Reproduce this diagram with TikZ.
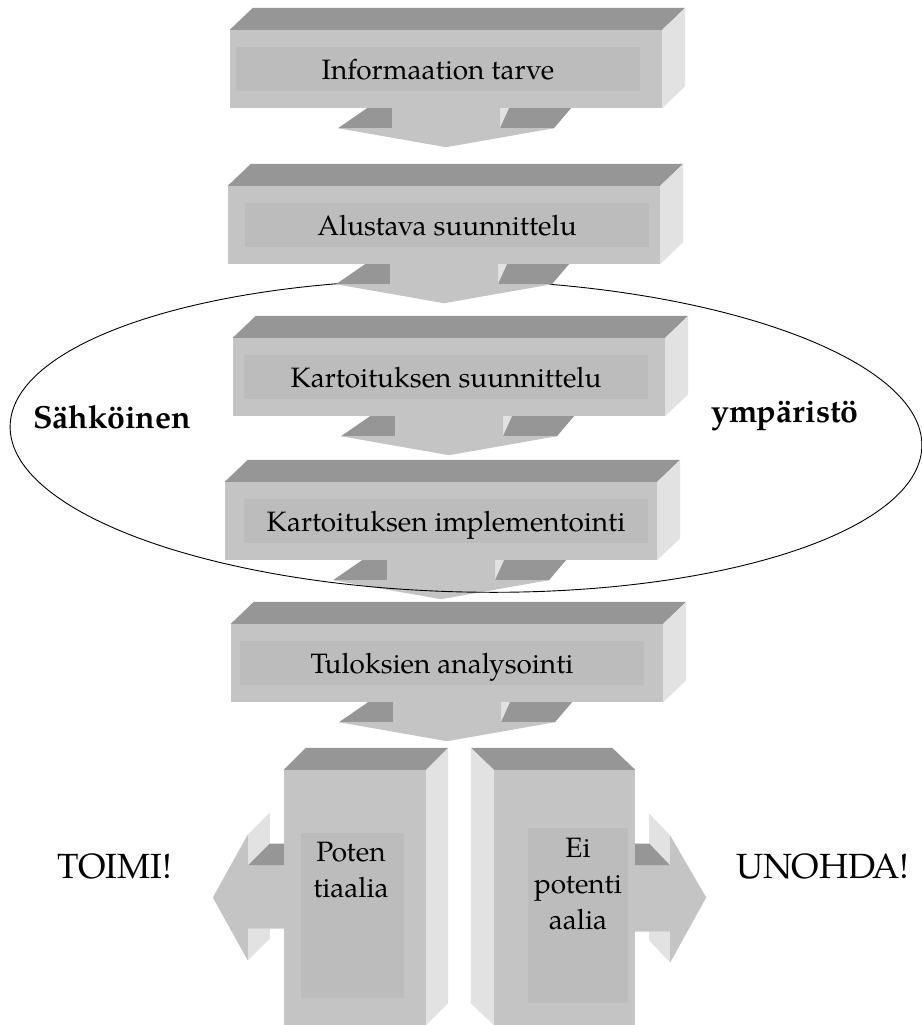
\documentclass[tikz,border=0pt]{standalone}
\usepackage{fontspec}
\setmainfont{texgyrepagella}[Extension=.otf, UprightFont=*-regular, BoldFont=*-bold, ItalicFont=*-italic, BoldItalicFont=*-bolditalic]
\usepackage{tikz}
\usetikzlibrary{shapes.geometric}
\usepackage{xcolor}
\definecolor{facegray}{RGB}{196,196,196}
\definecolor{topgray}{RGB}{150,150,150}
\definecolor{sidegray}{RGB}{226,226,226}
\definecolor{innergray}{RGB}{188,188,188}

\begin{document}
\begin{tikzpicture}[
    x=1pt, y=-1pt,
    face/.style={rectangle, fill=facegray, inner sep=0pt, minimum width=432pt, minimum height=78pt},
    inner/.style={rectangle, fill=innergray, inner sep=0pt, minimum width=404pt, minimum height=44pt,
        text height=25pt, text depth=5pt, font=\fontsize{28}{36}\selectfont},
    tall/.style={rectangle, fill=facegray, inner sep=0pt, minimum width=142pt, minimum height=255pt},
    talltext/.style={align=center, inner sep=0pt, font=\fontsize{28}{36}\selectfont},
    sidetext/.style={anchor=base, font=\fontsize{35}{40}\selectfont},
    envlabel/.style={anchor=base, font=\bfseries\fontsize{32}{36}\selectfont},
    flowarrow/.pic={
        \fill[topgray] (-108,20) -- (-54,20) -- (-54,0) -- (-79,0) -- cycle;
        \fill[sidegray] (54,0) -- (63,0) -- (54,20) -- cycle;
        \fill[topgray] (54,20) -- (108,20) -- (125,0) -- (63,0) -- cycle;
        \fill[facegray] (-54,0) -- (54,0) -- (54,20) -- (108,20) -- (0,39) -- (-108,20) -- (-54,20) -- cycle;
    }
]
\useasboundingbox[fill=white] (0,0) rectangle (921,1025);

% Steps
\foreach \nm/\cx/\cy/\ix/\txt in {need/446/69/438/Informaation tarve,
    draft/444/225/447/Alustava suunnittelu,
    design/449/377/446/Kartoituksen suunnittelu,
    impl/441/521/446/Kartoituksen implementointi,
    anal/447/663/442/Tuloksien analysointi}{
  \node[face] (\nm) at (\cx,\cy) {};
  \fill[topgray] (\nm.north west) -- ++(23,-22) -- ([shift={(23,-22)}]\nm.north east) -- (\nm.north east) -- cycle;
  \fill[sidegray] (\nm.north east) -- ++(23,-22) -- ([shift={(23,-22)}]\nm.south east) -- (\nm.south east) -- cycle;
  \node[inner] (\nm-in) at (\ix,\cy) {\txt};
}

% Arrows between the steps
\foreach \nm in {need, design, impl, anal}
  \pic at (\nm.south) {flowarrow};

% Electronic environment
\node[draw, ellipse, line width=0.9pt, inner sep=0pt, minimum width=912pt, minimum height=312pt, rotate=-1.3] (env) at (466,436) {};
\node[envlabel] (elec) at (112,428) {Sähköinen};
\node[envlabel] (envir) at (785,422) {ympäristö};

% this one lies over the ellipse
\pic at (draft.south) {flowarrow};

% Outcome blocks
\node[tall] (pot) at (355,897.5) {};
\fill[topgray] (pot.north west) -- ++(22,-22) -- ([shift={(22,-22)}]pot.north east) -- (pot.north east) -- cycle;
\fill[sidegray] (pot.north east) -- ++(22,-22) -- ([shift={(22,-22)}]pot.south east) -- (pot.south east) -- cycle;
\node[fill=innergray, inner sep=0pt, minimum width=103pt, minimum height=165pt] (pot-in) at (352.5,915.5) {};
\node[talltext] (pot-t) at (351,870) {Poten\\tiaalia};

\node[tall, minimum width=141pt] (nopot) at (564.5,897.5) {};
\fill[topgray] (nopot.north east) -- ++(-23,-22) -- ([shift={(-23,-22)}]nopot.north west) -- (nopot.north west) -- cycle;
\fill[sidegray] (nopot.north west) -- ++(-23,-22) -- ([shift={(-23,-22)}]nopot.south west) -- (nopot.south west) -- cycle;
\node[fill=innergray, inner sep=0pt, minimum width=100pt, minimum height=175pt] (nopot-in) at (578,915.5) {};
\node[talltext] (nopot-t) at (578,884) {Ei\\potenti\\aalia};

% Side arrows
\begin{scope}[shift={(pot.west)}]
  \fill[sidegray] (-36,-63) -- (-14,-85) -- (-14,-54) -- (-36,-32) -- cycle;
  \fill[sidegray] (-36,31) -- (-14,31) -- (-14,41) -- (-36,63) -- cycle;
  \fill[topgray] (-36,-32) -- (-14,-54) -- (0,-54) -- (0,-32) -- cycle;
  \fill[facegray] (0,-32) -- (-36,-32) -- (-36,-63) -- (-71,0) -- (-36,63) -- (-36,31) -- (0,31) -- cycle;
\end{scope}
\begin{scope}[shift={(nopot.east)}]
  \fill[sidegray] (35,-62) -- (14,-84) -- (14,-54) -- (35,-32) -- cycle;
  \fill[sidegray] (35,34) -- (35,65) -- (14,43) -- (14,34) -- cycle;
  \fill[topgray] (0,-32) -- (35,-32) -- (14,-54) -- (0,-54) -- cycle;
  \fill[facegray] (0,-32) -- (35,-32) -- (35,-62) -- (71,0) -- (35,65) -- (35,34) -- (0,34) -- cycle;
\end{scope}

\node[sidetext] (act) at (115,878) {TOIMI!};
\node[sidetext] (forget) at (823,878) {UNOHDA!};

\end{tikzpicture}
\end{document}
